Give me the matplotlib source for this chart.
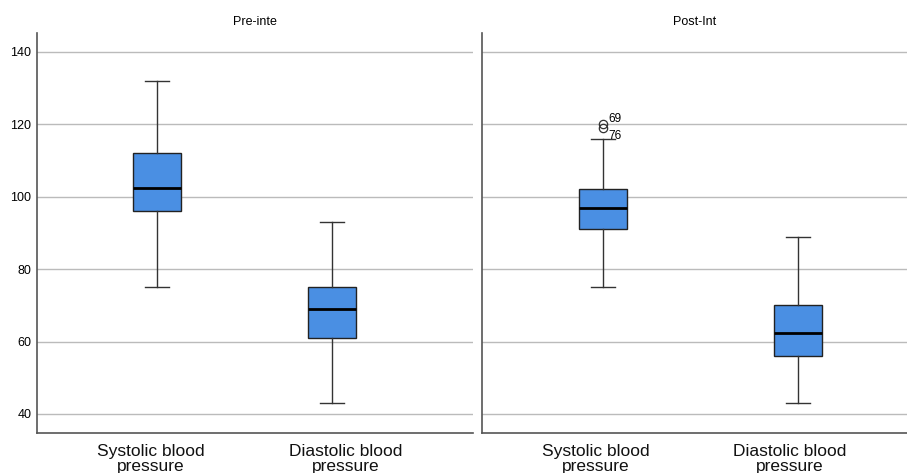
import matplotlib
matplotlib.use("Agg")
import matplotlib.pyplot as plt

plt.rcParams['font.family'] = ['Liberation Sans', 'DejaVu Sans']

categories = ["Systolic blood\npressure", "Diastolic blood\npressure"]
panels = ["Pre-inte", "Post-Int"]

# [whislo, q1, median, q3, whishi]
pre_sys = [75, 96, 102.5, 112, 132]
pre_dia = [43, 61, 69, 75, 93]
post_sys = [75, 91, 97, 102, 116]
post_dia = [43, 56, 62.5, 70, 89]
post_sys_outliers = [120, 119]
post_sys_outlier_ids = ["69", "76"]

yticks = [40, 60, 80, 100, 120, 140]

box_color = '#4a8fe3'
edge = '#222222'

fig = plt.figure(figsize=(9.07, 4.73), dpi=100)
ax1 = fig.add_axes([37/907, 40/473, 436/907, 400/473])
ax2 = fig.add_axes([482/907, 40/473, 425/907, 400/473])

def make_stats(vals, fliers=()):
    lo, q1, med, q3, hi = vals
    return dict(whislo=lo, q1=q1, med=med, q3=q3, whishi=hi, fliers=list(fliers))

def draw(ax, data, fliers, title, xlim, width, label_pos):
    stats = [make_stats(data[0], fliers[0]), make_stats(data[1], fliers[1])]
    ax.bxp(stats, positions=[1, 2], widths=width, patch_artist=True,
           boxprops=dict(facecolor=box_color, edgecolor=edge, linewidth=1.0),
           medianprops=dict(color='black', linewidth=2.0),
           whiskerprops=dict(color='#333333', linewidth=1.0),
           capprops=dict(color='#333333', linewidth=1.0),
           capwidths=width / 2,
           flierprops=dict(marker='o', markerfacecolor='none', markeredgecolor='#333333',
                           markersize=6, markeredgewidth=0.9),
           zorder=3)
    ax.set_xlim(*xlim)
    ax.set_ylim(34.75, 145.2)
    ax.set_yticks(yticks)
    ax.grid(axis='y', color='#bbbbbb', linewidth=1.0, zorder=0)
    ax.set_axisbelow(True)
    ax.set_xticks(label_pos)
    ax.set_xticklabels(categories, fontsize=12.5, color='#111111', linespacing=0.95)
    ax.tick_params(axis='x', length=0, pad=8)
    ax.tick_params(axis='y', length=0, labelsize=9, pad=4)
    for s in ['top', 'right']:
        ax.spines[s].set_visible(False)
    for s in ['left', 'bottom']:
        ax.spines[s].set_color('#555555')
        ax.spines[s].set_linewidth(1.2)
    ax.set_title(title, fontsize=9, pad=6)

draw(ax1, [pre_sys, pre_dia], [[], []], panels[0], (0.314, 2.806), 0.274, [0.966, 2.077])
draw(ax2, [post_sys, post_dia], [post_sys_outliers, []], panels[1], (0.38, 2.56), 0.246, [0.964, 1.959])
ax2.tick_params(axis='y', labelleft=False)

offsets = [(4, 4), (4, -6)]
for v, lab, (dx, dy) in zip(post_sys_outliers, post_sys_outlier_ids, offsets):
    ax2.annotate(lab, (1, v), xytext=(dx, dy), textcoords='offset points',
                 fontsize=8.5, va='center', ha='left')

fig.savefig('out.png', dpi=100, facecolor='white')
